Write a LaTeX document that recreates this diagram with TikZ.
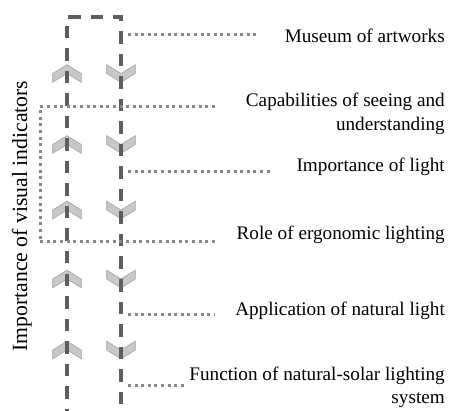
\documentclass[tikz,border=0pt]{standalone}
\usepackage{fontspec}
\setmainfont{Liberation Serif}
\definecolor{dashgray}{HTML}{5E5E5E}
\definecolor{dotgray}{HTML}{888888}
\definecolor{chevfill}{HTML}{C8C8C8}
\definecolor{chevdraw}{HTML}{A4A4A4}
\tikzset{
  dashline/.style={draw=dashgray, line width=3.2pt, dash pattern=on 12.5pt off 10pt},
  dotline/.style={draw=dotgray, line width=3pt, dash pattern=on 3pt off 3.6pt},
  chev/.style={fill=chevfill, draw=chevdraw, line width=0.6pt, line join=miter},
  lbl/.style={font=\fontsize{19.2}{23.5}\selectfont, inner sep=0pt, anchor=base east, align=right},
  upchev/.pic={\path[chev] (0,-8.8) -- (14.3,0) -- (14.3,8.8) -- (0,0) -- (-14.3,8.8) -- (-14.3,0) -- cycle;},
  downchev/.pic={\path[chev] (0,8.8) -- (14.3,0) -- (14.3,-8.8) -- (0,0) -- (-14.3,-8.8) -- (-14.3,0) -- cycle;},
}
\begin{document}
\begin{tikzpicture}[x=1pt,y=-1pt]
\useasboundingbox[fill=white] (0,0) rectangle (449,411);

% chevrons
\foreach \yy in {73.5,144.5,210,279,350} {
  \pic at (67,\yy) {upchev};
  \pic at (121,\yy) {downchev};
}

% dashed frame
\coordinate (LB) at (67,412);
\coordinate (LT) at (67,17);
\coordinate (RT) at (121,17);
\coordinate (RB) at (121,412);
\draw[dashline, dash phase=9pt] (LB) -- (LT) -- (RT) -- (RB);

% labels
\node[lbl] (museum) at (445,43) {Museum of artworks};
\node[lbl] (capab) at (445,130.5) {Capabilities of seeing and\\understanding};
\node[lbl] (implight) at (445,172) {Importance of light};
\node[lbl] (role) at (445,240) {Role of ergonomic lighting};
\node[lbl] (appl) at (445,315) {Application of natural light};
\node[lbl] (func) at (445,403.5) {Function of natural-solar lighting\\system};
\node[rotate=90, font=\fontsize{21.7}{26}\selectfont, inner sep=0pt, anchor=base] (vis) at (27,216) {Importance of visual indicators};

% dotted connectors
\coordinate (m0) at (128,35);   \coordinate (m1) at (257,35);
\coordinate (c0) at (215,107);  \coordinate (c1) at (40,107);
\coordinate (c2) at (40,242);   \coordinate (c3) at (215,242);
\coordinate (i0) at (128,172);  \coordinate (i1) at (273,172);
\coordinate (a0) at (128,314);  \coordinate (a1) at (215,314);
\coordinate (f0) at (128,385);  \coordinate (f1) at (185,385);
\draw[dotline] (m0) -- (m1);
\draw[dotline] (c0) -- (c1) -- (c2) -- (c3);
\draw[dotline] (i0) -- (i1);
\draw[dotline] (a0) -- (a1);
\draw[dotline] (f0) -- (f1);
\end{tikzpicture}
\end{document}
